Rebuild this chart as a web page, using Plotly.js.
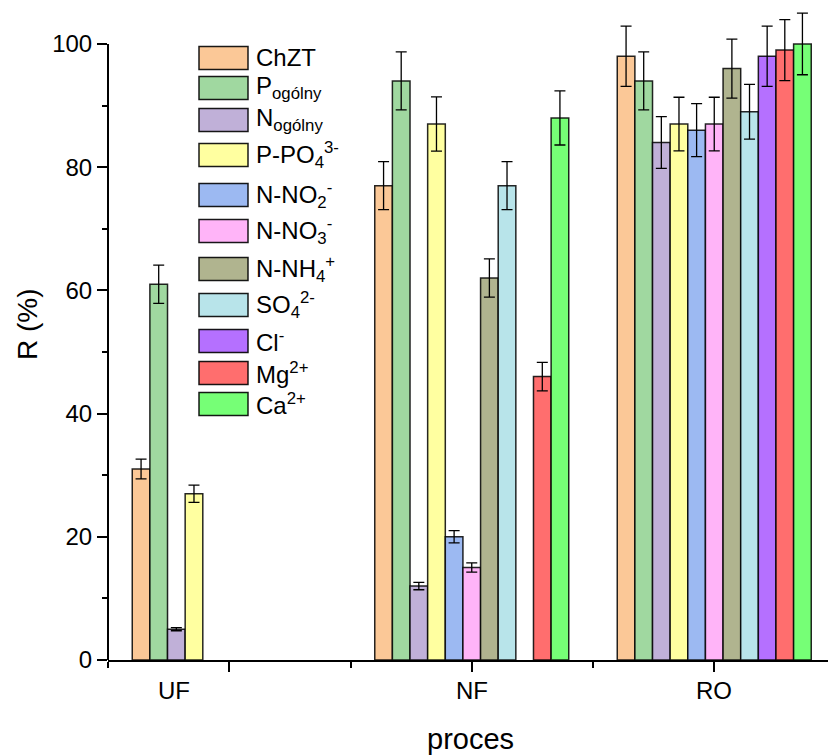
<!DOCTYPE html>
<html>
<head>
<meta charset="utf-8">
<script src="https://cdn.plot.ly/plotly-3.0.1.min.js"></script>
<style>
  html, body { margin: 0; padding: 0; background: #ffffff; }
  #chart { width: 828px; height: 755px; }
</style>
</head>
<body>
<div id="chart"></div>
<script>
// ---------- data ----------
const categories = ['UF', 'NF', 'RO'];

const seriesNames = [
  'ChZT',
  'P<sub>ogólny</sub>',
  'N<sub>ogólny</sub>',
  'P-PO<sub>4</sub><sup>3-</sup>',
  'N-NO<sub>2</sub><sup>-</sup>',
  'N-NO<sub>3</sub><sup>-</sup>',
  'N-NH<sub>4</sub><sup>+</sup>',
  'SO<sub>4</sub><sup>2-</sup>',
  'Cl<sup>-</sup>',
  'Mg<sup>2+</sup>',
  'Ca<sup>2+</sup>'
];

// values (R, %) for UF, NF, RO
const chzt    = [31, 77, 98];
const pOg     = [61, 94, 94];
const nOg     = [5, 12, 84];
const pPO4    = [27, 87, 87];
const nNO2    = [null, 20, 86];
const nNO3    = [null, 15, 87];
const nNH4    = [null, 62, 96];
const so4     = [null, 77, 89];
const cl      = [null, null, 98];
const mg      = [null, 46, 99];
const ca      = [null, 88, 100];

// error bars (±)
const chztErr = [1.6, 3.9, 4.9];
const pOgErr  = [3.1, 4.7, 4.7];
const nOgErr  = [0.25, 0.6, 4.2];
const pPO4Err = [1.4, 4.4, 4.35];
const nNO2Err = [null, 1.0, 4.3];
const nNO3Err = [null, 0.75, 4.35];
const nNH4Err = [null, 3.1, 4.8];
const so4Err  = [null, 3.9, 4.45];
const clErr   = [null, null, 4.9];
const mgErr   = [null, 2.3, 4.95];
const caErr   = [null, 4.4, 5.0];

const seriesColors = [
  '#FBC897', '#A0D8A0', '#C0B0D8', '#FFFFA0', '#9CB9F2', '#FFB4F8',
  '#B0B48F', '#B8E4EA', '#B570FF', '#FF6E6E', '#76FF76'
];

const seriesValues = [chzt, pOg, nOg, pPO4, nNO2, nNO3, nNH4, so4, cl, mg, ca];
const seriesErrors = [chztErr, pOgErr, nOgErr, pPO4Err, nNO2Err, nNO3Err, nNH4Err, so4Err, clErr, mgErr, caErr];

// ---------- build ----------
const FONT = 'Arial, "Liberation Sans", sans-serif';
const xIdx = categories.map((c, i) => i);
// label shift (in category units) — the UF label sits under its visible bars
const labelShift = [-0.227, 0, 0];

const traces = seriesNames.map((name, s) => ({
  type: 'bar',
  name: name,
  x: xIdx,
  y: seriesValues[s],
  marker: { color: seriesColors[s], line: { color: 'rgba(0,0,0,0.85)', width: 1.5 } },
  error_y: { type: 'data', array: seriesErrors[s], visible: true, color: '#000000', thickness: 1.3, width: 5.5 },
  cliponaxis: false,
  showlegend: false
}));

// plot area in pixels (y range extended above 100 so error bars are not clipped)
const W = 828, H = 755;
const L = 108, R = 0, T = 7, B = 95;
const pw = W - L - R, ph = H - T - B;
const px = v => (v - L) / pw;
const py = v => (H - B - v) / ph;

// manual legend (wide swatches like the original)
const legendRows = [58, 88, 120, 155, 195, 231, 269, 305, 341, 373, 404];
const shapes = [];
const annotations = [];
seriesNames.forEach((name, s) => {
  const c = legendRows[s];
  shapes.push({
    type: 'rect', xref: 'paper', yref: 'paper',
    x0: px(199), x1: px(248), y0: py(c + 11.5), y1: py(c - 11.5),
    fillcolor: seriesColors[s], line: { color: 'rgba(0,0,0,0.9)', width: 1.5 }
  });
  annotations.push({
    xref: 'paper', yref: 'paper', x: px(254), y: py(c),
    xanchor: 'left', yanchor: 'middle', showarrow: false,
    text: name, font: { family: FONT, size: 24, color: '#000' }
  });
});

// category labels
categories.forEach((c, i) => {
  annotations.push({
    xref: 'x', yref: 'paper', x: xIdx[i] + labelShift[i], y: py(691),
    xanchor: 'center', yanchor: 'middle', showarrow: false,
    text: c, font: { family: FONT, size: 24, color: '#000' }
  });
});

// y axis line only from 0 to 100
shapes.push({
  type: 'line', xref: 'paper', yref: 'y', x0: 0, x1: 0, y0: 0, y1: 100,
  line: { color: '#000', width: 2 }
});

// axis titles
annotations.push({
  xref: 'paper', yref: 'paper', x: px(27), y: py(324),
  xanchor: 'center', yanchor: 'middle', showarrow: false, textangle: -90,
  text: 'R (%)', font: { family: FONT, size: 28, color: '#000' }
});
annotations.push({
  xref: 'paper', yref: 'paper', x: px(470), y: py(739),
  xanchor: 'center', yanchor: 'middle', showarrow: false,
  text: 'proces', font: { family: FONT, size: 29, color: '#000' }
});

const layout = {
  width: W, height: H,
  margin: { l: L, r: R, t: T, b: B, pad: 0 },
  paper_bgcolor: '#ffffff', plot_bgcolor: '#ffffff',
  font: { family: FONT, color: '#000' },
  barmode: 'group', bargap: 0.2, bargroupgap: 0,
  showlegend: false,
  xaxis: {
    range: [-0.5, (W - L) / 242.5 - 0.5],
    tickvals: xIdx, showticklabels: false,
    ticks: 'outside', ticklen: 10, tickwidth: 2, tickcolor: '#000',
    minor: { ticks: 'outside', ticklen: 6, tickwidth: 2, tickcolor: '#000', tick0: 0.5, dtick: 1 },
    showline: true, linecolor: '#000', linewidth: 2,
    showgrid: false, zeroline: false
  },
  yaxis: {
    range: [0, 106], dtick: 20, tick0: 0,
    ticks: 'outside', ticklen: 10, tickwidth: 2, tickcolor: '#000',
    minor: { ticks: 'outside', ticklen: 5, tickwidth: 2, tickcolor: '#000', dtick: 10 },
    showline: false,
    showgrid: false, zeroline: false,
    tickfont: { family: FONT, size: 24, color: '#000' }
  },
  shapes: shapes,
  annotations: annotations
};

Plotly.newPlot('chart', traces, layout, { displayModeBar: false, staticPlot: true });
</script>
</body>
</html>
